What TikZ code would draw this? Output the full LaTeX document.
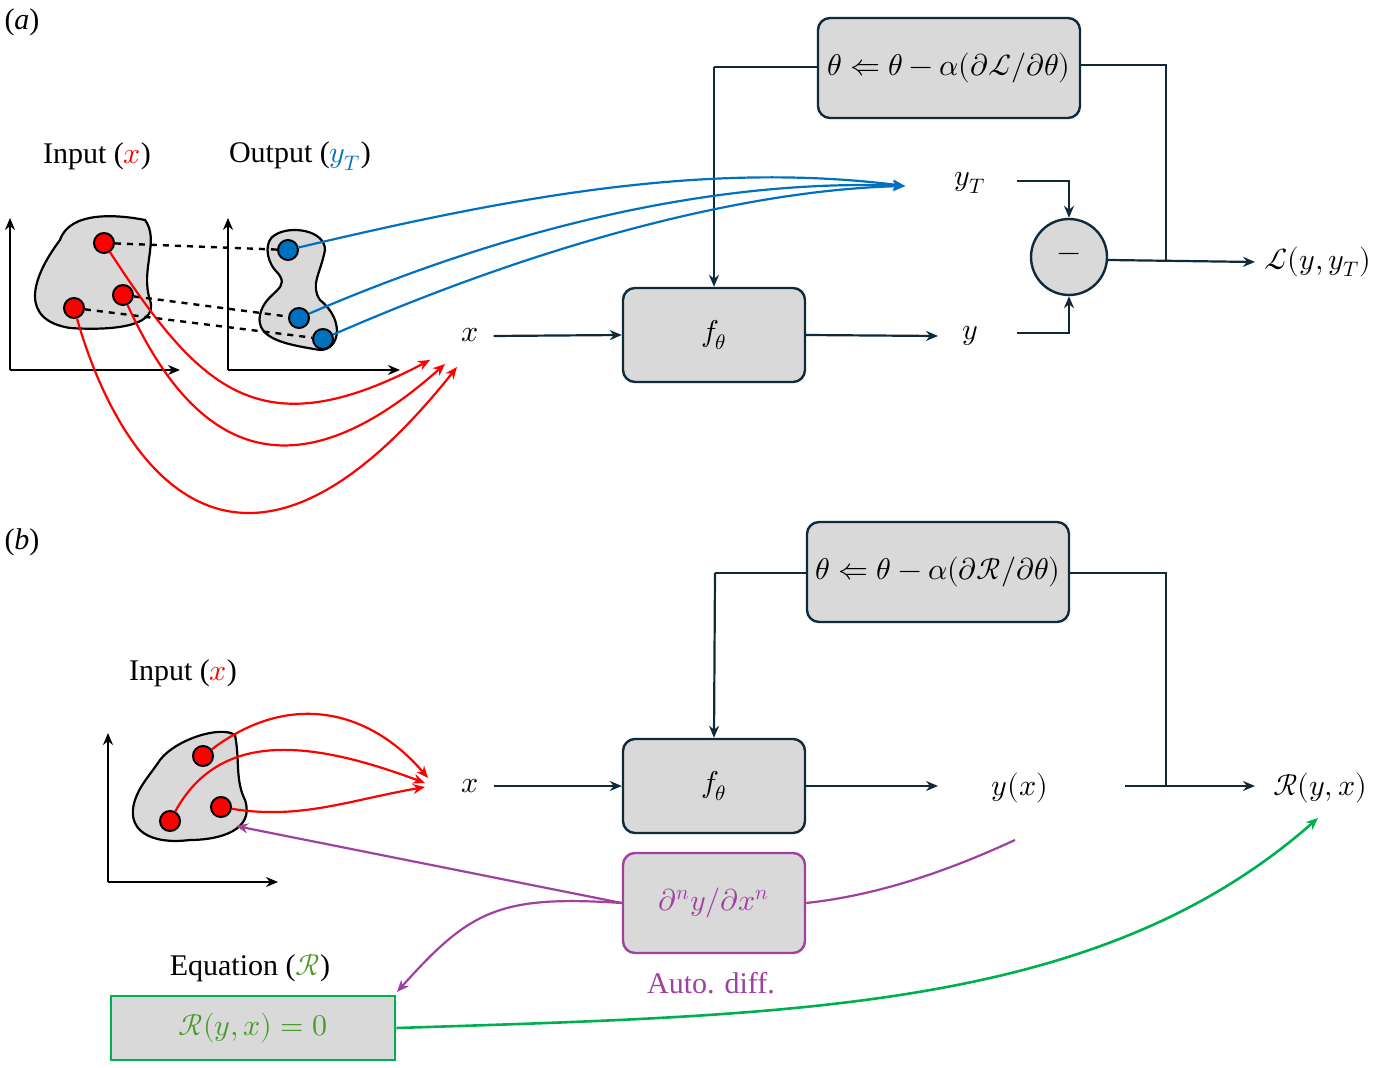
\documentclass[tikz,border=0pt]{standalone}
\usepackage{fontspec}
\setmainfont{Liberation Serif}
\usepackage{unicode-math}
\setmathfont{Latin Modern Math}
\usetikzlibrary{arrows.meta}
\definecolor{bx}{HTML}{D9D9D9}
\definecolor{dk}{HTML}{0F2A3A}
\definecolor{bl}{HTML}{0070C0}
\definecolor{pu}{HTML}{A040A0}
\definecolor{gr}{HTML}{00B050}
\definecolor{gt}{HTML}{4A9A2A}
\begin{document}
\begin{tikzpicture}[x=0.5pt,y=-0.5pt,font=\fontsize{15}{18}\selectfont,
 box/.style={draw=dk,line width=1.2pt,fill=bx,rounded corners=6pt},
 ln/.style={draw=dk,line width=1.1pt},
 ar/.style={ln,-{Stealth[length=6pt,width=5pt]}},
 ax/.style={black,line width=1.2pt,-{Stealth[length=6pt,width=5pt]}},
 rc/.style={red,line width=1.1pt,-{Stealth[length=6pt,width=5pt]}},
 bc/.style={bl,line width=1.1pt,-{Stealth[length=6pt,width=5pt]}},
 rdot/.style={circle,draw=black,line width=1pt,fill=red,inner sep=0,minimum size=10pt},
 bdot/.style={circle,draw=black,line width=1pt,fill=bl,inner sep=0,minimum size=10pt},
 blob/.style={draw=black,line width=1.1pt,fill=bx}]
\useasboundingbox (0,0) rectangle (1374,1068);
% (a)
\node at (22,22) {(\textit{a})};
\node[box,minimum width=131pt,minimum height=50pt] (ua) at (949,68) {$\theta \Leftarrow \theta - \alpha(\partial\mathcal{L}/\partial\theta)$};
\node[box,minimum width=91pt,minimum height=47pt] (fa) at (714,335) {$f_\theta$};
\node (xa) at (470,335) {$x$};
\node (ya) at (970,336) {$y$};
\node (yt) at (970,183) {$y_T$};
\node[circle,draw=dk,line width=1.2pt,fill=bx,minimum size=38pt,inner sep=0] (mi) at (1069,257) {$-$};
\node (La) at (1318,262) {$\mathcal{L}(y,y_T)$};
\coordinate (ta) at (714,67);
\draw[ln] (ua.west|-ta) -- (ta);
\draw[ar] (ta) -- (fa.north);
\draw[ar] (xa.east) ++(8,1) -- (fa.west|-xa);
\draw[ar] (fa.east|-xa) -- (938,336);
\draw[ar] (1017,181) -| (mi.north);
\draw[ar] (1017,333) -| (mi.south);
\draw[ar] (mi.east) ++(0,3) -- (1255,262);
\draw[ln] (ua.east) ++(0,-3) -| (1166,261);
\node at (97,156) {Input (\textcolor{red}{$x$})};
\node at (300,156) {Output (\textcolor{bl}{$y_T$})};
\draw[ax] (10,370) -- (180,370); \draw[ax] (10,370) -- (10,218);
\draw[ax] (228,370) -- (400,370); \draw[ax] (228,370) -- (228,218);
\draw[blob] (60,240) .. controls (70,210) and (120,215) .. (145,220) .. controls (160,240) and (140,270) .. (150,300) .. controls (160,330) and (100,330) .. (70,328) .. controls (20,320) and (30,280) .. (60,240) -- cycle;
\draw[blob] (275,235) .. controls (290,225) and (325,230) .. (325,250) .. controls (320,275) and (310,285) .. (320,300) .. controls (345,320) and (340,350) .. (320,350) .. controls (290,345) and (255,340) .. (260,315) .. controls (265,290) and (295,290) .. (275,270) .. controls (265,258) and (265,240) .. (275,235) -- cycle;
\node[rdot] (r1) at (104,243) {}; \node[rdot] (r2) at (123,295) {}; \node[rdot] (r3) at (74,308) {};
\node[bdot] (b1) at (288,250) {}; \node[bdot] (b2) at (299,318) {}; \node[bdot] (b3) at (323,339) {};
\draw[dashed,line width=1.2pt] (r1) -- (b1) (r2) -- (b2) (r3) -- (b3);
\coordinate (tb) at (905,186);
\draw[bc] (b1) .. controls (500,200) and (700,160) .. (tb);
\draw[bc] (b2) .. controls (550,210) and (750,180) .. (tb);
\draw[bc] (b3) .. controls (550,240) and (750,190) .. (tb);
\draw[rc] (r1) .. controls (200,390) and (260,450) .. (430,360);
\draw[rc] (r2) .. controls (180,420) and (270,520) .. (445,364);
\draw[rc] (r3) .. controls (120,470) and (240,640) .. (457,367);
% (b)
\node at (22,542) {(\textit{b})};
\node[box,minimum width=131pt,minimum height=50pt] (ub) at (938,572) {$\theta \Leftarrow \theta - \alpha(\partial\mathcal{R}/\partial\theta)$};
\node[box,minimum width=91pt,minimum height=47pt] (fb) at (714,786) {$f_\theta$};
\node (xb) at (470,786) {$x$};
\node (yb) at (1020,788) {$y(x)$};
\node (Rb) at (1320,788) {$\mathcal{R}(y,x)$};
\coordinate (tc) at (715,573);
\draw[ln] (ub.west|-tc) -- (tc);
\draw[ar] (tc) -- (fb.north);
\draw[ar] (xb.east) ++(8,0) -- (fb.west|-xb);
\draw[ar] (fb.east|-xb) -- (938,786);
\draw[ar] (1125,786) -- (1255,786);
\draw[ln] (ub.east) ++(0,1) -| (1166,786);
\node at (183,673) {Input (\textcolor{red}{$x$})};
\draw[ax] (108,882) -- (278,882); \draw[ax] (108,882) -- (108,733);
\draw[blob] (160,760) .. controls (175,740) and (220,725) .. (235,735) .. controls (240,760) and (235,780) .. (245,800) .. controls (255,830) and (220,840) .. (190,840) .. controls (150,845) and (125,830) .. (135,800) .. controls (140,785) and (150,775) .. (160,760) -- cycle;
\node[rdot] (s1) at (203,756) {}; \node[rdot] (s2) at (221,807) {}; \node[rdot] (s3) at (170,821) {};
\draw[rc] (s1) .. controls (290,690) and (370,710) .. (428,778);
\draw[rc] (s3) .. controls (220,730) and (310,740) .. (425,783);
\draw[rc] (s2) .. controls (300,820) and (350,800) .. (425,787);
\node[box,draw=pu,minimum width=91pt,minimum height=50pt] (ad) at (714,903) {\textcolor{pu}{$\partial^n y/\partial x^n$}};
\node[text=pu] at (711,983) {Auto. diff.};
\draw[pu,line width=1.1pt,-{Stealth[length=6pt,width=5pt]}] (ad.west) -- (236,826);
\draw[pu,line width=1.1pt,-{Stealth[length=6pt,width=5pt]}] (ad.west) .. controls (500,895) and (470,910) .. (397,992);
\draw[pu,line width=1.1pt] (ad.east) .. controls (880,895) and (950,870) .. (1015,840);
\node at (250,968) {Equation (\textcolor{gt}{$\mathcal{R}$})};
\node[draw=gr,line width=1.4pt,fill=bx,minimum width=142pt,minimum height=32pt] (eq) at (253,1028) {\textcolor{gt}{$\mathcal{R}(y,x)=0$}};
\draw[gr,line width=1.3pt,-{Stealth[length=6pt,width=5pt]}] (eq.east) .. controls (800,1015) and (1100,1010) .. (1318,818);
\end{tikzpicture}
\end{document}
